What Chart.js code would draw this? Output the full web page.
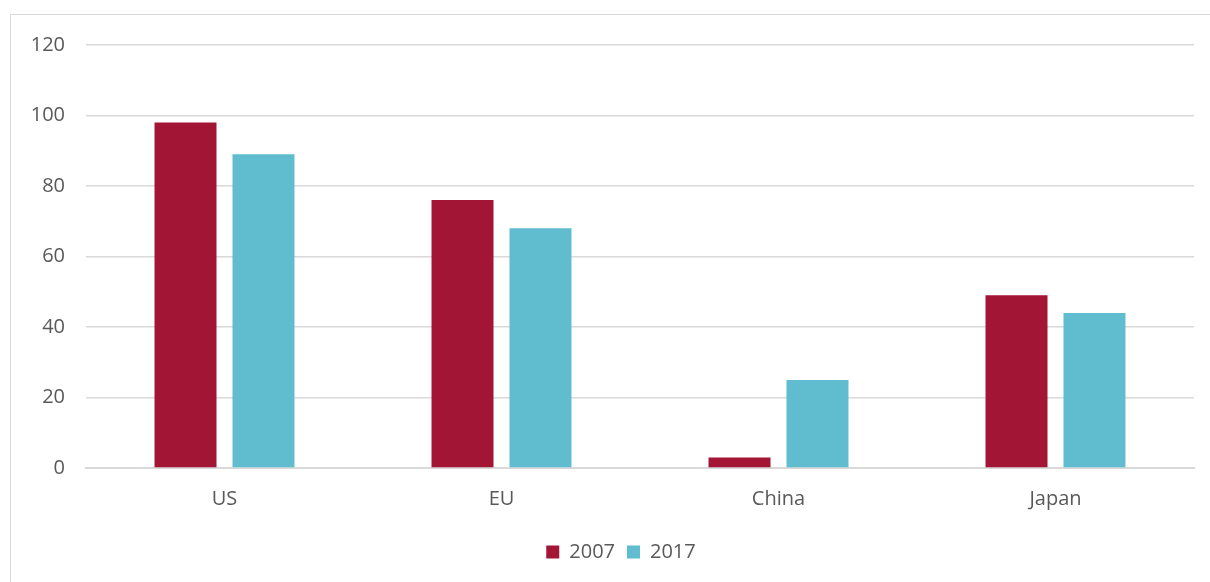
<!DOCTYPE html>
<html>
<head>
<meta charset="utf-8">
<script src="https://cdn.jsdelivr.net/npm/chart.js@4.4.0/dist/chart.umd.min.js"></script>
<style>
  html, body { margin: 0; padding: 0; background: #fff; }
  #frame { position: absolute; left: 10px; top: 14px; width: 1210px; height: 580px; border: 1px solid #d9d9d9; box-sizing: border-box; }
  #wrap { position: absolute; left: 0; top: 0; width: 1210px; height: 582px; }
</style>
</head>
<body>
<div id="frame"></div>
<div id="wrap"><canvas id="myChart"></canvas></div>
<script>
const regions = ['US', 'EU', 'China', 'Japan']
const values2007 = [98, 76, 3, 49]
const values2017 = [89, 68, 25, 44]
const yTicks = [0, 20, 40, 60, 80, 100, 120]

const ctx = document.getElementById('myChart')
const textColor = '#595959'
const font = { family: "'Open Sans', 'Liberation Sans', sans-serif", size: 20 }

// nudge the legend so it sits under the middle of the frame
const legendShift = {
    id: 'legendShift',
    afterLayout: chart => {
        chart.legend.left += 24
        chart.legend.right += 24
    }
}

new Chart(ctx, {
    type: 'bar',
    data: {
        labels: regions,
        datasets: [
            { label: '2007', data: values2007, backgroundColor: '#a31535', borderWidth: 0 },
            { label: '2017', data: values2017, backgroundColor: '#60bccf', borderWidth: 0 }
        ]
    },
    options: {
        responsive: true,
        maintainAspectRatio: false,
        animation: false,
        layout: { padding: { left: 0, right: 16, top: 45, bottom: 10 } },
        datasets: { bar: { categoryPercentage: 0.563, barPercentage: 0.795 } },
        scales: {
            x: {
                grid: { display: false, drawTicks: false },
                border: { color: '#d9d9d9', width: 2 },
                ticks: { color: textColor, font: font, padding: 19 }
            },
            y: {
                min: 0,
                max: 120,
                afterBuildTicks: axis => { axis.ticks = yTicks.map(v => ({ value: v })) },
                afterFit: axis => { axis.width = 86 },
                grid: { color: '#d9d9d9', lineWidth: 1.5, drawTicks: false },
                border: { display: false },
                ticks: { color: textColor, font: font, padding: 21 }
            }
        },
        plugins: {
            tooltip: { enabled: false },
            legend: {
                position: 'bottom',
                labels: { color: textColor, font: font, boxWidth: 13, boxHeight: 13, padding: 12 }
            }
        }
    },
    plugins: [legendShift]
})
</script>
</body>
</html>
